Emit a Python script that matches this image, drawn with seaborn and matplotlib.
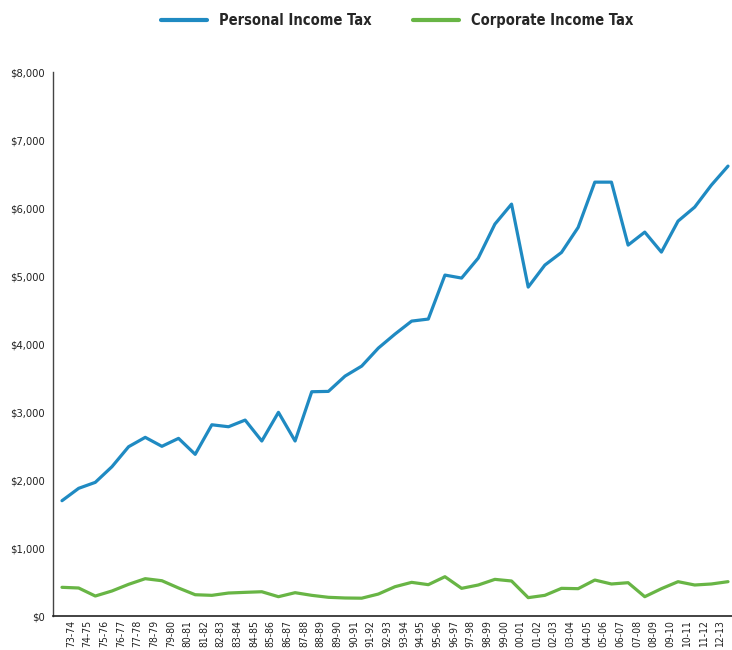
import matplotlib
matplotlib.use("Agg")
import matplotlib.pyplot as plt
import matplotlib.transforms as mtransforms
import seaborn as sns
import pandas as pd
import numpy as np

# dados
anos = ['73-74', '74-75', '75-76', '76-77', '77-78', '78-79', '79-80', '80-81',
        '81-82', '82-83', '83-84', '84-85', '85-86', '86-87', '87-88', '88-89',
        '89-90', '90-91', '91-92', '92-93', '93-94', '94-95', '95-96', '96-97',
        '97-98', '98-99', '99-00', '00-01', '01-02', '02-03', '03-04', '04-05',
        '05-06', '06-07', '07-08', '08-09', '09-10', '10-11', '11-12', '12-13',
        '13-14']

imposto_pessoal = [1696, 1878, 1966, 2196, 2490, 2628, 2496, 2613, 2378, 2813,
                   2784, 2882, 2574, 2996, 2574, 3299, 3304, 3529, 3676, 3941,
                   4147, 4338, 4368, 5015, 4971, 5265, 5765, 6059, 4838, 5162,
                   5348, 5716, 6382, 6382, 5456, 5647, 5353, 5809, 6015, 6338,
                   6618]

imposto_empresas = [422, 412, 294, 368, 466, 549, 519, 412, 313, 304,
                    338, 348, 357, 284, 343, 304, 275, 265, 262, 323,
                    431, 495, 461, 578, 407, 456, 539, 515, 270, 304,
                    407, 402, 529, 471, 490, 284, 402, 505, 456, 471,
                    505]

series = ['Personal Income Tax', 'Corporate Income Tax']
cores = ['#1f8ac2', '#68b545']
y_ticks = [0, 1000, 2000, 3000, 4000, 5000, 6000, 7000, 8000]
y_labels = ['$0', '$1,000', '$2,000', '$3,000', '$4,000', '$5,000', '$6,000', '$7,000', '$8,000']

# monta o DataFrame em formato longo
n = len(anos)
df = pd.DataFrame({
    'idx': list(range(n)) * 2,
    'valor': imposto_pessoal + imposto_empresas,
    'serie': [series[0]] * n + [series[1]] * n,
})

sns.set_style("white")
# fonte condensada, parecida com a original
plt.rcParams['font.family'] = ['DejaVu Sans']
plt.rcParams['font.stretch'] = 'condensed'

fig = plt.figure(figsize=(7.32, 6.5), dpi=100)
ax = fig.add_axes([0.0724, 0.0523, 0.9276, 0.8367])

sns.lineplot(data=df, x='idx', y='valor', hue='serie', hue_order=series,
             palette=cores, linewidth=2.3, ax=ax, legend=False)

ax.set_xlim(-0.54, 40.24)
ax.set_ylim(0, 8000)

# ticks do eixo x ficam meio passo à direita dos pontos
posicoes = np.arange(n) + 0.54
ax.set_xticks(posicoes[:-1])
ax.set_xticklabels(anos[:-1], rotation=90, fontsize=7.5, color='#222222')
ax.set_yticks(y_ticks)
ax.set_yticklabels(y_labels, fontsize=8, color='#222222')
ax.set_xlabel('')
ax.set_ylabel('')

# último rótulo fica cortado na borda (como no original)
trans = mtransforms.blended_transform_factory(ax.transData, ax.transAxes)
ax.text(posicoes[-1], -0.006, anos[-1], rotation=90, fontsize=7.5, color='#222222',
        ha='center', va='top', transform=trans, clip_on=False)

ax.tick_params(axis='y', direction='in', length=13, width=1, color='#444444', pad=6)
ax.tick_params(axis='x', direction='in', length=9, width=1, color='#444444', pad=3)

sns.despine(ax=ax, top=True, right=True)
ax.spines['left'].set_color('#444444')
ax.spines['bottom'].set_color('#222222')
ax.spines['left'].set_linewidth(1)
ax.spines['bottom'].set_linewidth(1.2)

# legenda no topo
handles = [plt.Line2D([], [], color=c, linewidth=3) for c in cores]
fig.legend(handles, series, loc='center', bbox_to_anchor=(0.543, 0.969), ncol=2,
           frameon=False, prop={'weight': 'bold', 'size': 10.5, 'stretch': 'condensed'},
           handlelength=3.15, handletextpad=0.82, columnspacing=2.85)

fig.savefig('out.png', dpi=100)
